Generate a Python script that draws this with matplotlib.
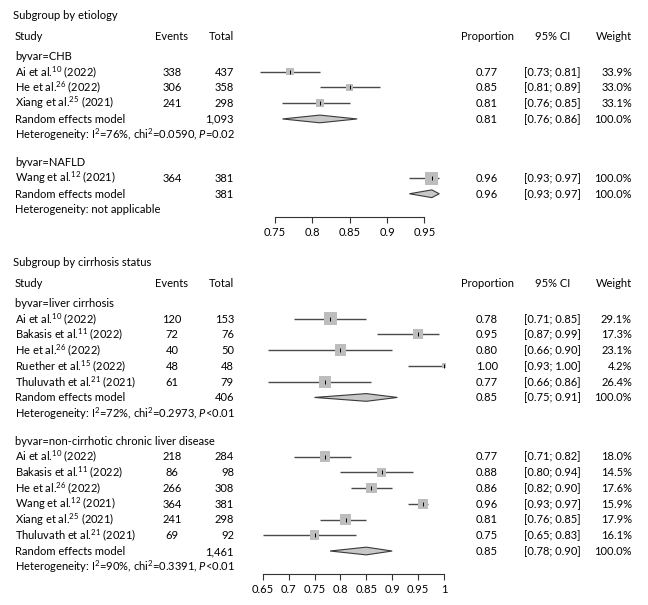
import matplotlib
matplotlib.use("Agg")
import matplotlib.pyplot as plt
import matplotlib.transforms as mtransforms

plt.rcParams['font.family'] = 'Lato'
plt.rcParams['mathtext.fontset'] = 'custom'
plt.rcParams['mathtext.rm'] = 'Lato'
plt.rcParams['mathtext.it'] = 'Lato:italic'
plt.rcParams['mathtext.bf'] = 'Lato:bold'

# ---------------- data ----------------
# subgroup by etiology
chb_names = ["Ai et al.", "He et al.", "Xiang et al."]
chb_refs = [10, 26, 25]
chb_years = [2022, 2022, 2021]
chb_events = [338, 306, 241]
chb_totals = [437, 358, 298]
chb_prop = [0.77, 0.85, 0.81]
chb_lo = [0.73, 0.81, 0.76]
chb_hi = [0.81, 0.89, 0.85]
chb_weight = [33.9, 33.0, 33.1]
chb_pooled = [0.81, 0.76, 0.86]
chb_het = r"Heterogeneity: I$^2$=76%, chi$^2$=0.0590, $\mathit{P}$=0.02"

nafld_names = ["Wang et al."]
nafld_refs = [12]
nafld_years = [2021]
nafld_events = [364]
nafld_totals = [381]
nafld_prop = [0.96]
nafld_lo = [0.93]
nafld_hi = [0.97]
nafld_weight = [100.0]
nafld_pooled = [0.96, 0.93, 0.97]
nafld_het = "Heterogeneity: not applicable"

# subgroup by cirrhosis status
lc_names = ["Ai et al.", "Bakasis et al.", "He et al.", "Ruether et al.", "Thuluvath et al."]
lc_refs = [10, 11, 26, 15, 21]
lc_years = [2022, 2022, 2022, 2022, 2021]
lc_events = [120, 72, 40, 48, 61]
lc_totals = [153, 76, 50, 48, 79]
lc_prop = [0.78, 0.95, 0.80, 1.00, 0.77]
lc_lo = [0.71, 0.87, 0.66, 0.93, 0.66]
lc_hi = [0.85, 0.99, 0.90, 1.00, 0.86]
lc_weight = [29.1, 17.3, 23.1, 4.2, 26.4]
lc_pooled = [0.85, 0.75, 0.91]
lc_het = r"Heterogeneity: I$^2$=72%, chi$^2$=0.2973, $\mathit{P}$<0.01"

nc_names = ["Ai et al.", "Bakasis et al.", "He et al.", "Wang et al.", "Xiang et al.", "Thuluvath et al."]
nc_refs = [10, 11, 26, 12, 25, 21]
nc_years = [2022, 2022, 2022, 2021, 2021, 2021]
nc_events = [218, 86, 266, 364, 241, 69]
nc_totals = [284, 98, 308, 381, 298, 92]
nc_prop = [0.77, 0.88, 0.86, 0.96, 0.81, 0.75]
nc_lo = [0.71, 0.80, 0.82, 0.93, 0.76, 0.65]
nc_hi = [0.82, 0.94, 0.90, 0.97, 0.85, 0.83]
nc_weight = [18.0, 14.5, 17.6, 15.9, 17.9, 16.1]
nc_pooled = [0.85, 0.78, 0.90]
nc_het = r"Heterogeneity: I$^2$=90%, chi$^2$=0.3391, $\mathit{P}$<0.01"

etio_ticks = [0.75, 0.8, 0.85, 0.9, 0.95]
cirr_ticks = [0.65, 0.7, 0.75, 0.8, 0.85, 0.9, 0.95, 1.0]


def make_group(label, names, refs, years, events, totals, prop, lo, hi, weight, pooled, het):
    return dict(label=label, names=names, refs=refs, years=years, events=events,
                totals=totals, prop=prop, lo=lo, hi=hi, weight=weight,
                pooled=pooled, het=het)


etio_groups = [
    make_group("byvar=CHB", chb_names, chb_refs, chb_years, chb_events, chb_totals,
               chb_prop, chb_lo, chb_hi, chb_weight, chb_pooled, chb_het),
    make_group("byvar=NAFLD", nafld_names, nafld_refs, nafld_years, nafld_events, nafld_totals,
               nafld_prop, nafld_lo, nafld_hi, nafld_weight, nafld_pooled, nafld_het),
]
cirr_groups = [
    make_group("byvar=liver cirrhosis", lc_names, lc_refs, lc_years, lc_events, lc_totals,
               lc_prop, lc_lo, lc_hi, lc_weight, lc_pooled, lc_het),
    make_group("byvar=non-cirrhotic chronic liver disease", nc_names, nc_refs, nc_years,
               nc_events, nc_totals, nc_prop, nc_lo, nc_hi, nc_weight, nc_pooled, nc_het),
]

# ---------------- layout ----------------
W, H = 648, 605
STEP = 15.75          # px per row
FS = 8
LINE_C = '#4a4a4a'
BOX_C = '#bdbdbd'
DIA_C = '#c8c8c8'

# column x positions (px)
X_STUDY = 15
X_EVENTS = 172
X_TOTAL = 234
X_PROP = 487
X_CI = 552.5
X_WEIGHT = 632

fig = plt.figure(figsize=(W / 100, H / 100), dpi=100)


def draw_panel(title, groups, title_px, v0, p0, scale, xlim, ticks):
    # row positions
    rows = []
    y = 2.6
    for g in groups:
        g_rows = {'label': y}
        g_rows['studies'] = [y + 1 + i for i in range(len(g['names']))]
        y = y + 1 + len(g['names'])
        g_rows['pooled'] = y
        g_rows['het'] = y + 1
        rows.append(g_rows)
        y = y + 1 + 1.75
    axis_row = rows[-1]['het'] + 0.45

    left_px = p0 + (xlim[0] - v0) * scale
    width_px = (xlim[1] - xlim[0]) * scale
    top_px = title_px - 10
    bot_px = title_px + axis_row * STEP
    ax = fig.add_axes([left_px / W, 1 - bot_px / H, width_px / W, (bot_px - top_px) / H])
    ax.set_xlim(xlim)
    ax.set_ylim(axis_row, -10 / STEP)
    ax.patch.set_visible(False)
    for s in ['top', 'left', 'right']:
        ax.spines[s].set_visible(False)
    ax.spines['bottom'].set_bounds(ticks[0], ticks[-1])
    ax.spines['bottom'].set_color('#333333')
    ax.spines['bottom'].set_linewidth(0.8)
    ax.set_yticks([])
    ax.set_xticks(ticks)
    ax.set_xticklabels([f"{t:g}" for t in ticks])
    ax.tick_params(axis='x', direction='out', length=4.5, width=0.8, color='#333333',
                   labelsize=FS, pad=3)

    trans = mtransforms.blended_transform_factory(fig.transFigure, ax.transData)
    off = 0.25

    def txt(xpx, yrow, s, ha='left'):
        ax.text(xpx / W, yrow + off, s, transform=trans, ha=ha, va='baseline',
                fontsize=FS, clip_on=False)

    txt(X_STUDY - 2, 0, title)
    hy = 1.35
    txt(X_STUDY, hy, "Study")
    txt(X_EVENTS, hy, "Events", 'center')
    txt(X_TOTAL, hy, "Total", 'right')
    txt(X_PROP, hy, "Proportion", 'center')
    txt(X_CI, hy, "95% CI", 'center')
    txt(X_WEIGHT, hy, "Weight", 'right')

    wmax = max(max(g['weight']) for g in groups)
    for g, r in zip(groups, rows):
        txt(X_STUDY, r['label'], g['label'])
        for i, yy in enumerate(r['studies']):
            txt(X_STUDY, yy, f"{g['names'][i]}$^{{{g['refs'][i]}}}$ ({g['years'][i]})")
            txt(X_EVENTS, yy, str(g['events'][i]), 'center')
            txt(X_TOTAL, yy, f"{g['totals'][i]:,}", 'right')
            txt(X_PROP, yy, f"{g['prop'][i]:.2f}", 'center')
            txt(X_CI, yy, f"[{g['lo'][i]:.2f}; {g['hi'][i]:.2f}]", 'center')
            txt(X_WEIGHT, yy, f"{g['weight'][i]:.1f}%", 'right')
            ax.plot([g['lo'][i], g['hi'][i]], [yy, yy], color=LINE_C, lw=1.0,
                    solid_capstyle='butt', zorder=2)
            ax.scatter([g['prop'][i]], [yy], marker='s', s=87.6 * g['weight'][i] / wmax,
                       color=BOX_C, edgecolors='none', zorder=3)
            ax.scatter([g['prop'][i]], [yy], marker='|', s=6, color='black',
                       linewidths=0.7, zorder=4)
        py = r['pooled']
        est, plo, phi = g['pooled']
        txt(X_STUDY, py, "Random effects model")
        txt(X_TOTAL, py, f"{sum(g['totals']):,}", 'right')
        txt(X_PROP, py, f"{est:.2f}", 'center')
        txt(X_CI, py, f"[{plo:.2f}; {phi:.2f}]", 'center')
        txt(X_WEIGHT, py, "100.0%", 'right')
        ax.fill([plo, est, phi, est], [py, py - 0.245, py, py + 0.245],
                facecolor=DIA_C, edgecolor='#3a3a3a', lw=0.8, zorder=3)
        txt(X_STUDY, r['het'], g['het'])
    return ax


draw_panel("Subgroup by etiology", etio_groups, 15, 0.75, 275, 746.7, (0.70, 1.00), etio_ticks)
draw_panel("Subgroup by cirrhosis status", cirr_groups, 262, 0.65, 262.7, 518, (0.60, 1.05), cirr_ticks)

fig.savefig("out.png", dpi=100, facecolor='white')
